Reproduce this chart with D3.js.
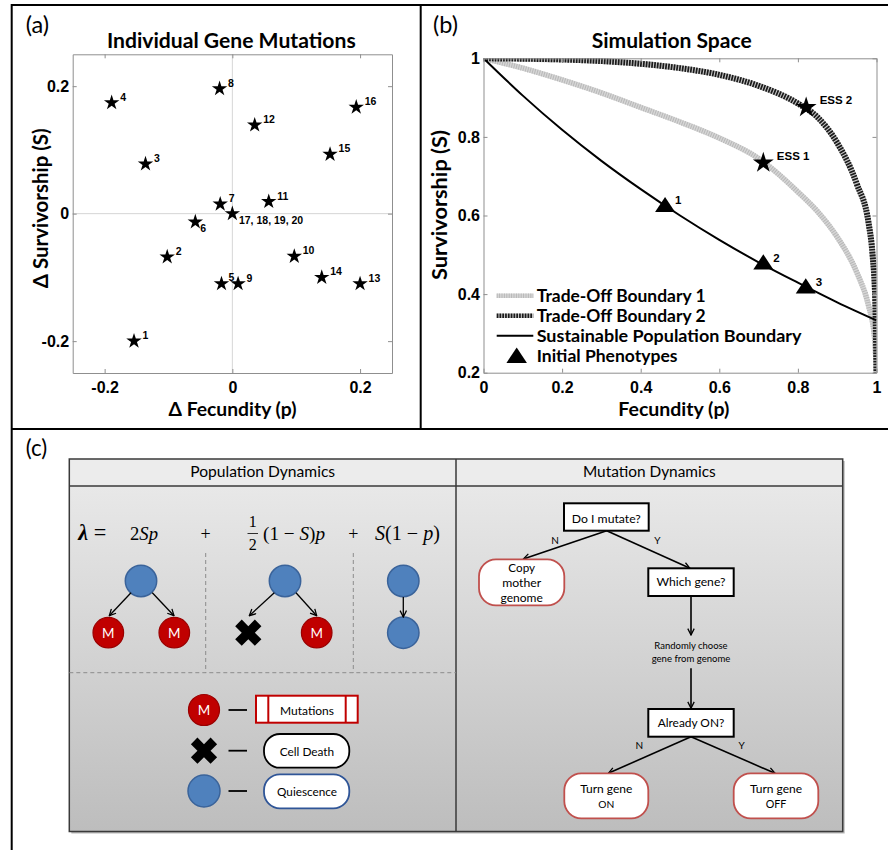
<!DOCTYPE html>
<html><head><meta charset="utf-8">
<script src="https://cdn.jsdelivr.net/npm/d3@7"></script>
<style>body{margin:0;background:#fff}svg{display:block}</style>
</head><body>
<svg id="fig" width="888" height="850"></svg>
<script>
// ---------------- DATA ----------------
// Panel (a): individual gene mutations
const mutationIds = ["1","2","3","4","5","6","7","8","9","10","11","12","13","14","15","16","17, 18, 19, 20"];
const deltaFecundity   = [-0.154,-0.102,-0.136,-0.189,-0.017,-0.058,-0.019,-0.020, 0.009, 0.097, 0.057, 0.035, 0.200, 0.140, 0.153, 0.194, 0.000];
const deltaSurvivorship= [-0.200,-0.068, 0.078, 0.174,-0.110,-0.013, 0.015, 0.196,-0.110,-0.067, 0.019, 0.139,-0.110,-0.100, 0.093, 0.167, 0.000];
const deltaTicks = [-0.2, 0, 0.2];

// Panel (b): simulation space
const fecundityTicks = [0, 0.2, 0.4, 0.6, 0.8, 1];
const survivorshipTicks = [0.2, 0.4, 0.6, 0.8, 1];
const tradeOff1P = [0, 0.1, 0.2, 0.3, 0.4, 0.5, 0.6, 0.7, 0.8, 0.85, 0.9, 0.95, 0.98, 0.995, 1];
const tradeOff1S = [1, 0.975, 0.945, 0.912, 0.875, 0.838, 0.797, 0.745, 0.66, 0.61, 0.545, 0.455, 0.37, 0.29, 0.2];
const tradeOff2P = [0, 0.1, 0.2, 0.3, 0.4, 0.5, 0.6, 0.7, 0.8, 0.85, 0.9, 0.95, 0.98, 0.99, 0.997, 1];
const tradeOff2S = [1, 0.999, 0.997, 0.993, 0.986, 0.975, 0.958, 0.93, 0.885, 0.85, 0.785, 0.68, 0.58, 0.5, 0.38, 0.2];
const sustainableP = [0, 0.1, 0.2, 0.3, 0.4, 0.5, 0.6, 0.7, 0.8, 0.9, 1];
const sustainableS = [1, 0.905, 0.818, 0.739, 0.667, 0.600, 0.538, 0.481, 0.429, 0.379, 0.333];
const phenotypeNames = ["1", "2", "3"];
const phenotypeP = [0.462, 0.712, 0.820];
const phenotypeS = [0.626, 0.480, 0.419];
const essNames = ["ESS 1", "ESS 2"];
const essP = [0.712, 0.821];
const essS = [0.734, 0.875];
const legendLabels = ["Trade-Off Boundary 1", "Trade-Off Boundary 2", "Sustainable Population Boundary", "Initial Phenotypes"];

// Panel (c): schematic texts
const sectionHeaders = ["Population Dynamics", "Mutation Dynamics"];
const eventLegendLabels = ["Mutations", "Cell Death", "Quiescence"];
const flowQuestions = ["Do I mutate?", "Which gene?", "Already ON?"];
const flowOutcomes = [["Copy", "mother", "genome"], ["Turn gene", "ON"], ["Turn gene", "OFF"]];
const flowNote = ["Randomly choose", "gene from genome"];
const branchLabels = ["N", "Y"];

// ---------------- HELPERS ----------------
const SANS = "Lato, 'Open Sans', 'Noto Sans', sans-serif";
const ARIAL = "'Liberation Sans', Arial, sans-serif";
const SERIF = "'Liberation Serif', 'DejaVu Serif', serif";
const svg = d3.select("#fig");
const defs = svg.append("defs");

function fit(sel, w) {
  sel.each(function () {
    const fs = parseFloat(d3.select(this).attr("font-size"));
    const len = this.getComputedTextLength();
    if (len > 0) d3.select(this).attr("font-size", (fs * w / len).toFixed(2));
  });
  return sel;
}
function txt(g, s, x, y, o = {}) {
  const t = g.append("text").attr("x", x).attr("y", y)
    .attr("font-family", o.family || SANS).attr("font-size", o.size || 14)
    .attr("font-weight", o.weight || "normal").attr("text-anchor", o.anchor || "middle")
    .attr("fill", o.fill || "#000").text(s);
  if (o.style) t.attr("font-style", o.style);
  if (o.w) fit(t, o.w);
  return t;
}
function boxAxes(g, x, y, xt, yt, fmt, xPad, yPad) {
  const [x0, x1] = x.range(), [y0, y1] = y.range();
  const st = a => a.call(s => {
    s.select(".domain").attr("stroke", "#8f8f8f");
    s.selectAll(".tick line").attr("stroke", "#8f8f8f");
    s.selectAll(".tick text").attr("font-family", ARIAL).attr("font-size", 16).attr("font-weight", "bold").attr("fill", "#000");
  });
  st(g.append("g").attr("transform", `translate(0,${y0})`).call(d3.axisBottom(x).tickValues(xt).tickSize(-4).tickSizeOuter(0).tickPadding(xPad).tickFormat(fmt)));
  st(g.append("g").attr("transform", `translate(0,${y1})`).call(d3.axisTop(x).tickValues(xt).tickSize(-4).tickSizeOuter(0).tickFormat("")));
  st(g.append("g").attr("transform", `translate(${x0},0)`).call(d3.axisLeft(y).tickValues(yt).tickSize(-4).tickSizeOuter(0).tickPadding(yPad).tickFormat(fmt)));
  st(g.append("g").attr("transform", `translate(${x1},0)`).call(d3.axisRight(y).tickValues(yt).tickSize(-4).tickSizeOuter(0).tickFormat("")));
}
const fmt = d => String(d);

// ---------------- FRAMES ----------------
svg.append("rect").attr("x", 11.7).attr("y", 5).attr("width", 900).attr("height", 900)
  .attr("fill", "none").attr("stroke", "#000").attr("stroke-width", 2);
svg.append("line").attr("x1", 420.7).attr("x2", 420.7).attr("y1", 5).attr("y2", 429).attr("stroke", "#000").attr("stroke-width", 2);
svg.append("line").attr("x1", 11.7).attr("x2", 900).attr("y1", 429).attr("y2", 429).attr("stroke", "#000").attr("stroke-width", 2);
txt(svg, "(a)", 25.7, 33, { anchor: "start", size: 21, w: 23.5 });
txt(svg, "(b)", 433, 33, { anchor: "start", size: 21, w: 25 });
txt(svg, "(c)", 25.7, 456, { anchor: "start", size: 21, w: 21.5 });

// ---------------- PANEL A ----------------
const gA = svg.append("g");
const xA = d3.scaleLinear().domain([-0.25, 0.25]).range([72.7, 392]);
const yA = d3.scaleLinear().domain([-0.25, 0.25]).range([373, 54.3]);
gA.append("line").attr("x1", xA(0)).attr("x2", xA(0)).attr("y1", yA(-0.25)).attr("y2", yA(0.25)).attr("stroke", "#d6d6d6");
gA.append("line").attr("x1", xA(-0.25)).attr("x2", xA(0.25)).attr("y1", yA(0)).attr("y2", yA(0)).attr("stroke", "#d6d6d6");
boxAxes(gA, xA, yA, deltaTicks, deltaTicks, fmt, 8.5, 3.5);
gA.selectAll("path.star").data(mutationIds).join("path").attr("class", "star")
  .attr("d", d3.symbol(d3.symbolStar, 74))
  .attr("transform", (d, i) => `translate(${xA(deltaFecundity[i])},${yA(deltaSurvivorship[i])})`)
  .attr("fill", "#000");
const labelOffsetA = { "6": [5, 10.5], "17, 18, 19, 20": [6.6, 10.3], "5": [7, -3] };
gA.selectAll("text.lab").data(mutationIds).join("text").attr("class", "lab")
  .attr("x", (d, i) => xA(deltaFecundity[i]) + (labelOffsetA[d] ? labelOffsetA[d][0] : 8.5))
  .attr("y", (d, i) => yA(deltaSurvivorship[i]) + (labelOffsetA[d] ? labelOffsetA[d][1] : -2))
  .attr("font-family", ARIAL).attr("font-weight", "bold").attr("font-size", 10.5).text(d => d);
txt(svg, "Individual Gene Mutations", 231.3, 48, { size: 18, weight: "bold", w: 249 });
txt(svg, "\u0394 Fecundity (p)", 232.5, 416, { size: 18, weight: "bold", w: 128 });
txt(svg.append("g").attr("transform", "translate(48,208.3) rotate(-90)"), "\u0394 Survivorship (S)", 0, 0, { size: 18, weight: "bold", w: 160 });

// ---------------- PANEL B ----------------
const gB = svg.append("g");
const xB = d3.scaleLinear().domain([0, 1]).range([483.5, 876.5]);
const yB = d3.scaleLinear().domain([0.2, 1]).range([372.7, 58.3]);
defs.append("clipPath").attr("id", "clipB").append("rect")
  .attr("x", 483.5).attr("y", 58.3).attr("width", 393).attr("height", 314.4);
const line = d3.line().x(d => xB(d[0])).y(d => yB(d[1])).curve(d3.curveMonotoneX);
const tob1 = tradeOff1P.map((p, i) => [p, tradeOff1S[i]]);
const tob2 = tradeOff2P.map((p, i) => [p, tradeOff2S[i]]);
const sust = sustainableP.map((p, i) => [p, sustainableS[i]]);
const curves = gB.append("g").attr("clip-path", "url(#clipB)");
curves.append("path").attr("d", line(tob1)).attr("fill", "none").attr("stroke", "#d6d6d6").attr("stroke-width", 5.5);
curves.append("path").attr("d", line(tob1)).attr("fill", "none").attr("stroke", "#b8b8b8").attr("stroke-width", 5.5).attr("stroke-dasharray", "1 1.4");
curves.append("path").attr("d", line(tob2)).attr("fill", "none").attr("stroke", "#c4c4c4").attr("stroke-width", 6);
curves.append("path").attr("d", line(tob2)).attr("fill", "none").attr("stroke", "#1a1a1a").attr("stroke-width", 6).attr("stroke-dasharray", "1.7 1.1");
curves.append("path").attr("d", line(sust)).attr("fill", "none").attr("stroke", "#000").attr("stroke-width", 2);
boxAxes(gB, xB, yB, fecundityTicks, survivorshipTicks, fmt, 8.5, 3.5);

const triType = { draw(ctx, size) { const w = Math.sqrt(size); ctx.moveTo(0, -0.42 * w); ctx.lineTo(0.5 * w, 0.34 * w); ctx.lineTo(-0.5 * w, 0.34 * w); ctx.closePath(); } };
gB.selectAll("path.tri").data(phenotypeNames).join("path").attr("class", "tri")
  .attr("d", d3.symbol(triType, 400))
  .attr("transform", (d, i) => `translate(${xB(phenotypeP[i])},${yB(phenotypeS[i])})`).attr("fill", "#000");
gB.selectAll("text.tl").data(phenotypeNames).join("text").attr("class", "tl")
  .attr("x", (d, i) => xB(phenotypeP[i]) + 10).attr("y", (d, i) => yB(phenotypeS[i]) - 1)
  .attr("font-family", ARIAL).attr("font-weight", "bold").attr("font-size", 11.5).text(d => d);
gB.selectAll("path.ess").data(essNames).join("path").attr("class", "ess")
  .attr("d", d3.symbol(d3.symbolStar, 135))
  .attr("transform", (d, i) => `translate(${xB(essP[i])},${yB(essS[i])})`).attr("fill", "#000");
gB.selectAll("text.el").data(essNames).join("text").attr("class", "el")
  .attr("x", (d, i) => xB(essP[i]) + 13.5).attr("y", (d, i) => yB(essS[i]) - 3)
  .attr("font-family", ARIAL).attr("font-weight", "bold").attr("font-size", 11.5).text(d => d);

// legend
const legRows = [295.8, 315.8, 335.8, 356];
const lg = gB.append("g");
legendLabels.forEach((lab, i) => {
  const y = legRows[i];
  if (i === 0) {
    lg.append("line").attr("x1", 496.7).attr("x2", 533.3).attr("y1", y).attr("y2", y).attr("stroke", "#d6d6d6").attr("stroke-width", 4.5);
    lg.append("line").attr("x1", 496.7).attr("x2", 533.3).attr("y1", y).attr("y2", y).attr("stroke", "#b8b8b8").attr("stroke-width", 4.5).attr("stroke-dasharray", "1 1.4");
  } else if (i === 1) {
    lg.append("line").attr("x1", 496.7).attr("x2", 533.3).attr("y1", y).attr("y2", y).attr("stroke", "#c4c4c4").attr("stroke-width", 4.5);
    lg.append("line").attr("x1", 496.7).attr("x2", 533.3).attr("y1", y).attr("y2", y).attr("stroke", "#1a1a1a").attr("stroke-width", 4.5).attr("stroke-dasharray", "1.7 1.1");
  } else if (i === 2) {
    lg.append("line").attr("x1", 496.7).attr("x2", 533.3).attr("y1", y).attr("y2", y).attr("stroke", "#000").attr("stroke-width", 2);
  } else {
    lg.append("path").attr("d", d3.symbol(triType, 420)).attr("transform", `translate(516.7,${y})`).attr("fill", "#000");
  }
  const w = [169, 169, 265, 141][i];
  txt(lg, lab, 536.7, y + 6, { anchor: "start", size: 16, weight: "bold", w });
});
txt(svg, "Simulation Space", 671.7, 48, { size: 18, weight: "bold", w: 160 });
txt(svg, "Fecundity (p)", 673.8, 416, { size: 18, weight: "bold", w: 111 });
txt(svg.append("g").attr("transform", "translate(447,205) rotate(-90)"), "Survivorship (S)", 0, 0, { size: 18, weight: "bold", w: 150 });

// ---------------- PANEL C ----------------
const C = { l: 69.3, r: 842.7, t: 459, hb: 486, b: 831.5, mid: 456 };
const grad = defs.append("linearGradient").attr("id", "bodyGrad").attr("x1", 0).attr("y1", 0).attr("x2", 0).attr("y2", 1);
grad.append("stop").attr("offset", 0).attr("stop-color", "#e8e8e8");
grad.append("stop").attr("offset", 1).attr("stop-color", "#bdbdbd");
const mk = defs.append("marker").attr("id", "arr").attr("viewBox", "0 0 10 10").attr("refX", 9).attr("refY", 5)
  .attr("markerWidth", 8).attr("markerHeight", 8).attr("markerUnits", "userSpaceOnUse").attr("orient", "auto");
mk.append("path").attr("d", "M1,1 L9,5 L1,9").attr("fill", "none").attr("stroke", "#000").attr("stroke-width", 1.6);

const gC = svg.append("g");
gC.append("rect").attr("x", C.l + 2).attr("y", C.t + 2).attr("width", C.r - C.l).attr("height", C.b - C.t).attr("fill", "#8a8a8a").attr("opacity", 0.6);
gC.append("rect").attr("x", C.l).attr("y", C.hb).attr("width", C.r - C.l).attr("height", C.b - C.hb).attr("fill", "url(#bodyGrad)");
gC.append("rect").attr("x", C.l).attr("y", C.t).attr("width", C.r - C.l).attr("height", C.hb - C.t).attr("fill", "#ececec");
gC.append("rect").attr("x", C.l).attr("y", C.t).attr("width", C.r - C.l).attr("height", C.b - C.t).attr("fill", "none").attr("stroke", "#3a3a3a").attr("stroke-width", 1.5);
gC.append("line").attr("x1", C.l).attr("x2", C.r).attr("y1", C.hb).attr("y2", C.hb).attr("stroke", "#3a3a3a").attr("stroke-width", 1.5);
gC.append("line").attr("x1", C.mid).attr("x2", C.mid).attr("y1", C.t).attr("y2", C.b).attr("stroke", "#3a3a3a").attr("stroke-width", 1.5);
txt(gC, sectionHeaders[0], (C.l + C.mid) / 2, 477, { size: 15, w: 145 });
txt(gC, sectionHeaders[1], (C.mid + C.r) / 2, 477, { size: 15, w: 133 });

// dashed separators
const dash = { stroke: "#8c8c8c", da: "4 3" };
gC.append("line").attr("x1", C.l).attr("x2", C.mid).attr("y1", 672.7).attr("y2", 672.7).attr("stroke", dash.stroke).attr("stroke-dasharray", dash.da);
[205.7, 353.3].forEach(x => gC.append("line").attr("x1", x).attr("x2", x).attr("y1", 553).attr("y2", 672.7).attr("stroke", dash.stroke).attr("stroke-dasharray", dash.da));

// equation
const eq = gC.append("g");
const t0 = eq.append("text").attr("x", 78.3).attr("y", 539.5).attr("font-family", SERIF).attr("font-size", 18).attr("text-anchor", "start");
t0.append("tspan").attr("font-weight", "bold").attr("font-style", "italic").text("\u03bb");
t0.append("tspan").text(" =");
fit(t0, 28);
const t1 = eq.append("text").attr("x", 130).attr("y", 539.5).attr("font-family", SERIF).attr("font-size", 18).attr("text-anchor", "start");
t1.append("tspan").text("2");
t1.append("tspan").attr("font-style", "italic").text("Sp");
fit(t1, 28);
txt(eq, "+", 205.7, 539.5, { family: SERIF, size: 18 });
txt(eq, "1", 252.7, 527, { family: SERIF, size: 16 });
txt(eq, "2", 252.7, 550, { family: SERIF, size: 16 });
eq.append("line").attr("x1", 247.5).attr("x2", 258).attr("y1", 533.5).attr("y2", 533.5).attr("stroke", "#000").attr("stroke-width", 0.8);
const t2 = eq.append("text").attr("x", 263).attr("y", 539.5).attr("font-family", SERIF).attr("font-size", 18).attr("text-anchor", "start");
t2.append("tspan").text("(1 \u2212 ");
t2.append("tspan").attr("font-style", "italic").text("S");
t2.append("tspan").text(")");
t2.append("tspan").attr("font-style", "italic").text("p");
fit(t2, 62);
txt(eq, "+", 353.3, 539.5, { family: SERIF, size: 18 });
const t3 = eq.append("text").attr("x", 375).attr("y", 539.5).attr("font-family", SERIF).attr("font-size", 18).attr("text-anchor", "start");
t3.append("tspan").attr("font-style", "italic").text("S");
t3.append("tspan").text("(1 \u2212 ");
t3.append("tspan").attr("font-style", "italic").text("p");
t3.append("tspan").text(")");
fit(t3, 65);

// cell icons
const BLUE = "#4f81bd", BLUE_S = "#3a639a", RED = "#c00000", RED_S = "#9a0000";
function blueCell(g, x, y, r) { g.append("circle").attr("cx", x).attr("cy", y).attr("r", r).attr("fill", BLUE).attr("stroke", BLUE_S).attr("stroke-width", 1.5); }
function mutCell(g, x, y, r) {
  g.append("circle").attr("cx", x).attr("cy", y).attr("r", r).attr("fill", RED).attr("stroke", RED_S).attr("stroke-width", 1.2);
  txt(g, "M", x, y + 5.3, { size: 15, fill: "#fff", w: 12.5 });
}
function deathX(g, x, y) { g.append("path").attr("d", d3.symbol(d3.symbolCross, 430)).attr("transform", `translate(${x},${y}) rotate(45)`).attr("fill", "#000"); }
function arrow(g, x1, y1, x2, y2, w) {
  g.append("line").attr("x1", x1).attr("y1", y1).attr("x2", x2).attr("y2", y2).attr("stroke", "#000").attr("stroke-width", w || 1.3).attr("marker-end", "url(#arr)");
}
// trees
blueCell(gC, 141, 581, 15.7); mutCell(gC, 108.3, 632.7, 15.3); mutCell(gC, 174.3, 632.7, 15.3);
arrow(gC, 131, 592.7, 109.3, 615.7); arrow(gC, 152.3, 592.7, 174, 615.7);
blueCell(gC, 285, 581, 15.7); deathX(gC, 248.3, 632.7); mutCell(gC, 316.7, 632.7, 15.3);
arrow(gC, 274.3, 592.7, 249.3, 615.7); arrow(gC, 296, 592.7, 316.7, 615.7);
blueCell(gC, 403.3, 581, 15.7); blueCell(gC, 403.3, 632.7, 15.7);
arrow(gC, 403.3, 597, 403.3, 617);

// event legend
mutCell(gC, 204, 710, 15.5); deathX(gC, 204, 750.7); blueCell(gC, 204, 791, 16);
[710, 750.7, 791].forEach(y => gC.append("line").attr("x1", 228.5).attr("x2", 247).attr("y1", y).attr("y2", y).attr("stroke", "#000").attr("stroke-width", 1.8));
gC.append("rect").attr("x", 256).attr("y", 695.7).attr("width", 101.7).attr("height", 27).attr("fill", "#fff").attr("stroke", RED).attr("stroke-width", 2);
[268.3, 345.7].forEach(x => gC.append("line").attr("x1", x).attr("x2", x).attr("y1", 695.7).attr("y2", 722.7).attr("stroke", RED).attr("stroke-width", 2));
gC.append("rect").attr("x", 264).attr("y", 734).attr("width", 85.3).attr("height", 33.7).attr("rx", 16).attr("fill", "#fff").attr("stroke", "#000").attr("stroke-width", 1.8);
gC.append("rect").attr("x", 264).attr("y", 774.3).attr("width", 85.3).attr("height", 34).attr("rx", 16).attr("fill", "#fff").attr("stroke", "#2f5597").attr("stroke-width", 1.8);
txt(gC, eventLegendLabels[0], 307, 715, { size: 13, w: 54 });
txt(gC, eventLegendLabels[1], 307, 755.7, { size: 13, w: 54.5 });
txt(gC, eventLegendLabels[2], 307, 796, { size: 13, w: 60 });

// flowchart
const FR = "#c0504d";
function qBox(x1, y1, x2, y2) { gC.append("rect").attr("x", x1).attr("y", y1).attr("width", x2 - x1).attr("height", y2 - y1).attr("fill", "#fff").attr("stroke", "#000").attr("stroke-width", 2); }
function oBox(x1, y1, x2, y2) { gC.append("rect").attr("x", x1).attr("y", y1).attr("width", x2 - x1).attr("height", y2 - y1).attr("rx", 17).attr("fill", "#fff").attr("stroke", FR).attr("stroke-width", 1.8); }
arrow(gC, 606.7, 530.7, 523.3, 559, 1.6); arrow(gC, 606.7, 530.7, 690, 568.3, 1.6);
arrow(gC, 691, 596, 691, 635, 1.6); arrow(gC, 691, 668.3, 691, 708.3, 1.6);
arrow(gC, 691, 736.7, 608.3, 773.3, 1.6); arrow(gC, 691, 736.7, 775, 773.3, 1.6);
qBox(564, 503.3, 648.7, 530.7); qBox(648.3, 568.3, 733.7, 596); qBox(648.3, 709, 733.7, 736.7);
oBox(479, 559.3, 564.3, 605.3); oBox(564.3, 773.3, 648.3, 818.3); oBox(733.7, 773.3, 818.3, 818.3);
txt(gC, flowQuestions[0], 606.3, 522.5, { size: 14, w: 69 });
txt(gC, flowQuestions[1], 691, 586, { size: 14, w: 69 });
txt(gC, flowQuestions[2], 691, 726.5, { size: 14, w: 66.7 });
txt(gC, flowOutcomes[0][0], 521.7, 571.5, { size: 14, w: 26.7 });
txt(gC, flowOutcomes[0][1], 521.7, 587, { size: 14, w: 39 });
txt(gC, flowOutcomes[0][2], 521.7, 601.7, { size: 14, w: 42.3 });
txt(gC, flowOutcomes[1][0], 606.3, 793, { size: 14, w: 52.3 });
txt(gC, flowOutcomes[1][1], 606.3, 808.3, { size: 14, w: 16 });
txt(gC, flowOutcomes[2][0], 776, 793, { size: 14, w: 52.3 });
txt(gC, flowOutcomes[2][1], 776, 808.3, { size: 14, w: 20.7 });
txt(gC, flowNote[0], 691, 649, { size: 10, w: 73.3 });
txt(gC, flowNote[1], 691, 662, { size: 10, w: 78.7 });
txt(gC, branchLabels[0], 555, 544, { size: 10 });
txt(gC, branchLabels[1], 657.3, 544, { size: 10 });
txt(gC, branchLabels[0], 639.3, 749.3, { size: 10 });
txt(gC, branchLabels[1], 741.7, 749.3, { size: 10 });
</script>
</body></html>
